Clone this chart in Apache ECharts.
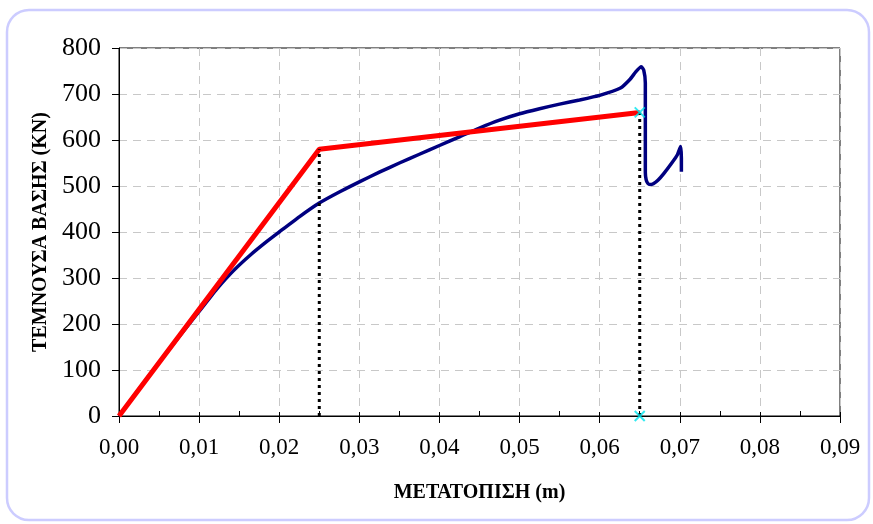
<!DOCTYPE html>
<html>
<head>
<meta charset="utf-8">
<script src="https://cdn.jsdelivr.net/npm/echarts@6/dist/echarts.min.js"></script>
<style>
html, body { margin: 0; padding: 0; background: #fff; }
#chart { width: 873px; height: 524px; }
</style>
</head>
<body>
<div id="chart"></div>
<script>
// measured curve (displacement m, shear kN)
var curveX = [0, 0.003, 0.006, 0.0093, 0.0112, 0.0122, 0.0143, 0.0164, 0.0185, 0.02, 0.0225, 0.025,
	0.0275, 0.03, 0.0325, 0.035, 0.0375, 0.04, 0.0425, 0.045, 0.0475, 0.05, 0.0525, 0.055, 0.0575,
	0.06, 0.0626, 0.0638, 0.0645, 0.0652, 0.0655, 0.0657, 0.0657, 0.0657, 0.0657, 0.0658, 0.066,
	0.0663, 0.0667, 0.0673, 0.068, 0.069, 0.0697, 0.0701, 0.0702, 0.0702];
var curveY = [0, 70, 139, 212, 254, 276, 316, 350, 380, 400, 433, 463,
	487, 509, 530, 550, 569, 588, 607, 626, 643, 657, 668, 678, 687,
	697, 713, 732, 748, 759, 752, 724, 650, 580, 530, 514, 506,
	503, 505, 513, 527, 550, 568, 586, 560, 531];
// bilinear idealisation
var bilinX = [0, 0.025, 0.065];
var bilinY = [0, 580, 660];
// yield and ultimate markers
var markX = [0.065, 0.065];
var markY = [660, 0];
var yieldX = 0.025, yieldY = 580;
var ultX = 0.065, ultY = 660;

var xTicks = ['0,00', '0,01', '0,02', '0,03', '0,04', '0,05', '0,06', '0,07', '0,08', '0,09'];
var yTicks = [0, 100, 200, 300, 400, 500, 600, 700, 800];

function pairs(xs, ys) {
	var out = [];
	for (var i = 0; i < xs.length; i++) out.push([xs[i], ys[i]]);
	return out;
}

var myChart = echarts.init(document.getElementById('chart'));
var option = {
	backgroundColor: '#fff',
	animation: false,
	graphic: [{
		type: 'rect',
		shape: { x: 7, y: 10, width: 862, height: 510, r: 22 },
		style: { fill: 'none', stroke: '#ccccff', lineWidth: 2.5 },
		z: -1
	}],
	grid: {
		left: 119, right: 33, top: 48, bottom: 108,
		show: true, borderColor: '#000', borderWidth: 1, backgroundColor: 'transparent'
	},
	xAxis: [{
		type: 'value',
		min: 0, max: 0.09, interval: 0.01,
		name: 'ΜΕΤΑΤΟΠΙΣΗ (m)',
		nameLocation: 'middle',
		nameGap: 67,
		nameTextStyle: { fontFamily: 'Liberation Serif', fontWeight: 'bold', fontSize: 20, color: '#000' },
		axisLine: { lineStyle: { color: '#000', width: 1 } },
		axisTick: { show: true, length: 7, lineStyle: { color: '#000' } },
		axisLabel: {
			margin: 20,
			fontFamily: 'Liberation Serif', fontSize: 23, color: '#000',
			formatter: function (v) { return xTicks[Math.round(v * 100)]; }
		},
		splitLine: { show: true, lineStyle: { color: '#c8c8c8', type: [8, 6], width: 1 } }
	}, {
		type: 'value',
		position: 'bottom',
		gridIndex: 0,
		min: 0, max: 0.09, interval: 0.01,
		axisLine: { show: false },
		axisTick: { show: true, inside: true, length: 4, lineStyle: { color: '#000' } },
		minorTick: { show: true, splitNumber: 2, length: 5, lineStyle: { color: '#000' } },
		axisLabel: { show: false },
		splitLine: { show: false }
	}],
	yAxis: {
		type: 'value',
		min: 0, max: 800, interval: 100,
		name: 'ΤΕΜΝΟΥΣΑ ΒΑΣΗΣ (KN)',
		nameLocation: 'middle',
		nameGap: 68,
		nameTextStyle: { fontFamily: 'Liberation Serif', fontWeight: 'bold', fontSize: 20, color: '#000' },
		axisLine: { lineStyle: { color: '#000', width: 1 } },
		axisTick: { show: true, length: 7, lineStyle: { color: '#000' } },
		axisLabel: {
			margin: 18,
			fontFamily: 'Liberation Serif', fontSize: 26, color: '#000',
			formatter: function (v) { return yTicks.indexOf(v) >= 0 ? String(v) : ''; }
		},
		splitLine: { show: true, lineStyle: { color: '#c8c8c8', type: [8, 6], width: 1 } }
	},
	series: [{
		name: 'curve',
		type: 'line',
		data: pairs(curveX, curveY),
		showSymbol: false,
		smooth: 0.15,
		lineStyle: { color: '#000080', width: 3.5 },
		z: 2
	}, {
		name: 'bilinear',
		type: 'line',
		data: pairs(bilinX, bilinY),
		showSymbol: false,
		lineStyle: { color: '#ff0000', width: 5 },
		z: 3
	}, {
		name: 'yield',
		type: 'line',
		data: [[yieldX, 0], [yieldX, yieldY]],
		showSymbol: false,
		lineStyle: { color: '#000', width: 3, type: [3, 4] },
		z: 4
	}, {
		name: 'ultimate',
		type: 'line',
		data: [[ultX, 0], [ultX, ultY]],
		showSymbol: false,
		lineStyle: { color: '#000', width: 3, type: [3, 4] },
		z: 4
	}, {
		name: 'marks',
		type: 'scatter',
		data: pairs(markX, markY),
		symbol: 'path://M0,0L10,10M10,0L0,10',
		symbolSize: 10,
		itemStyle: { color: 'none', borderColor: '#00e5ee', borderWidth: 2 },
		z: 5
	}]
};
myChart.setOption(option);
</script>
</body>
</html>
